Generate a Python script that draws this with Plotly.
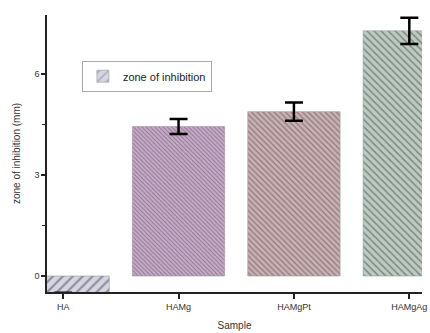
import plotly.graph_objects as go

samples = ["HA", "HAMg", "HAMgPt", "HAMgAg"]
zone_mm = [-0.5, 4.44, 4.88, 7.28]
zone_err = [0.0, 0.22, 0.27, 0.39]
bar_colors = ["#d6d5e3", "#c9a9c9", "#cdb0b4", "#bccbc2"]
hatch_fg = ["#8f8ea6", "#9c7a9c", "#9c7d82", "#889c8e"]
hatch_shape = ["/", "\\", "\\", "\\"]
hatch_size = [7, 3, 4, 5]
y_ticks = [0, 3, 6]

fig = go.Figure()
fig.add_trace(go.Bar(
    x=samples, y=zone_mm, name="zone of inhibition",
    width=0.8,
    marker=dict(
        color=bar_colors,
        line=dict(color="#999999", width=0.6),
        pattern=dict(shape=hatch_shape, fgcolor=hatch_fg, bgcolor=bar_colors,
                     size=hatch_size, solidity=0.3, fillmode="overlay"),
    ),
    error_y=dict(type="data", array=zone_err, visible=True, color="black",
                 thickness=2.5, width=9),
    showlegend=True,
))

fig.update_layout(
    width=430, height=333,
    margin=dict(l=47, r=8, t=15, b=41),
    paper_bgcolor="white", plot_bgcolor="white",
    font=dict(family="Liberation Sans, Arial, sans-serif", size=9, color="#333"),
    legend=dict(x=0.093, y=0.835, xanchor="left", yanchor="top",
                bordercolor="#aaa", borderwidth=1, bgcolor="white",
                font=dict(size=11, color="#222"),
                itemwidth=30, tracegroupgap=0),
    xaxis=dict(
        automargin=False,
        range=[-0.14, 3.11], showline=True, linecolor="#222", linewidth=1.5,
        ticks="outside", ticklen=5, tickcolor="#222", tickwidth=1.5,
        minor=dict(ticks="outside", ticklen=3, tickcolor="#222", tickwidth=1, dtick=0.5),
        title=dict(text="Sample", font=dict(size=10, color="#333"), standoff=11),
        tickfont=dict(size=9, color="#333"),
    ),
    yaxis=dict(
        automargin=False,
        range=[-0.475, 7.75], showline=True, linecolor="#222", linewidth=1.5,
        tickvals=y_ticks, ticks="outside", ticklen=4, tickcolor="#222", tickwidth=1.5,
        minor=dict(ticks="outside", ticklen=3, tickcolor="#222", tickwidth=1,
                   tickvals=[1.5, 4.5]),
        showgrid=False, zeroline=False,
        title=dict(text="zone of inhibition (mm)", font=dict(size=10, color="#333"), standoff=12),
        tickfont=dict(size=9, color="#333"),
    ),
)
fig.write_html("out.html", post_script="document.body.style.margin='0';",
               config={"displayModeBar": False})
